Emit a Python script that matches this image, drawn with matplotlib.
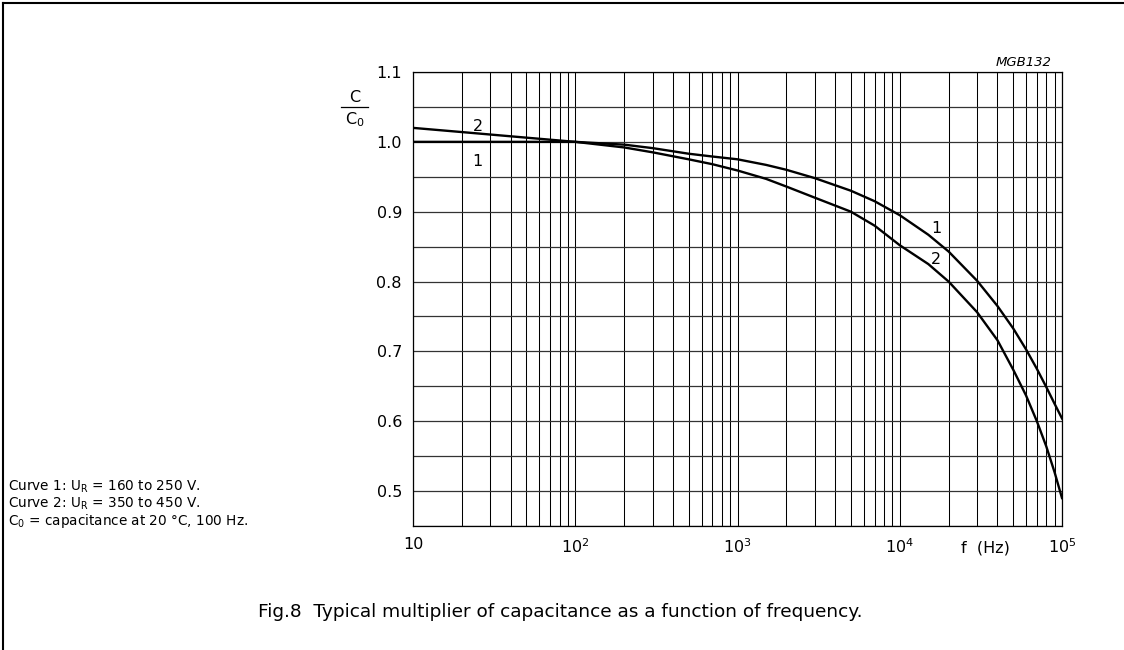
import matplotlib
matplotlib.use("Agg")
import matplotlib.pyplot as plt
from matplotlib.lines import Line2D
from matplotlib.ticker import FixedLocator, NullFormatter

plt.rcParams['font.family'] = ['DejaVu Sans']
plt.rcParams['mathtext.fontset'] = 'dejavusans'

# ---- data ----
freq = [10, 20, 50, 100, 200, 300, 500, 700, 1000, 1500, 2000, 3000, 5000, 7000,
        10000, 15000, 20000, 30000, 40000, 50000, 60000, 70000, 80000, 90000, 100000]
curve1 = [1.0, 1.0, 1.0, 1.0, 0.996, 0.991, 0.983, 0.979, 0.975, 0.967, 0.960, 0.948,
          0.930, 0.915, 0.895, 0.867, 0.843, 0.801, 0.765, 0.733, 0.703, 0.675,
          0.649, 0.625, 0.604]
curve2 = [1.020, 1.014, 1.006, 1.0, 0.992, 0.985, 0.975, 0.968, 0.959, 0.947, 0.936,
          0.920, 0.900, 0.880, 0.852, 0.825, 0.800, 0.756, 0.716, 0.674, 0.637,
          0.600, 0.564, 0.527, 0.490]

y_ticks = [0.5, 0.6, 0.7, 0.8, 0.9, 1.0, 1.1]
y_tick_labels = ['0.5', '0.6', '0.7', '0.8', '0.9', '1.0', '1.1']
x_ticks = [10, 100, 1000, 10000, 100000]
x_tick_labels = ['10', '10$^{2}$', '10$^{3}$', '10$^{4}$', '10$^{5}$']

W, H = 1124, 650
fig = plt.figure(figsize=(W / 100, H / 100), dpi=100)
ax = fig.add_axes([413 / W, 1 - 526 / H, (1062 - 413) / W, (526 - 72) / H])

ax.set_xscale('log')
ax.set_xlim(10, 1e5)
ax.set_ylim(0.45, 1.1)

# grid
minor_x = [m * 10 ** e for e in range(1, 5) for m in range(2, 10)]
for xv in minor_x + x_ticks:
    ax.axvline(xv, color='black', lw=0.75, zorder=1)
yv = 0.45
while yv < 1.1 + 1e-9:
    ax.axhline(yv, color='#333333', lw=0.9, zorder=1)
    yv = round(yv + 0.05, 2)

ax.plot(freq, curve1, color='black', lw=1.7, zorder=3, solid_joinstyle='round')
ax.plot(freq, curve2, color='black', lw=1.7, zorder=3, solid_joinstyle='round')

ax.xaxis.set_major_locator(FixedLocator(x_ticks))
ax.xaxis.set_minor_locator(FixedLocator([]))
ax.xaxis.set_minor_formatter(NullFormatter())
ax.set_xticks(x_ticks)
ax.set_xticklabels(x_tick_labels)
ax.set_yticks(y_ticks)
ax.set_yticklabels(y_tick_labels)
ax.tick_params(axis='both', length=0, labelsize=11.5, pad=8)
ax.tick_params(axis='x', pad=8)
for s in ax.spines.values():
    s.set_linewidth(0.9)

# curve labels
ax.text(25, 1.022, '2', fontsize=11.5, ha='center', va='center')
ax.text(25, 0.9715, '1', fontsize=11.5, ha='center', va='center')
ax.text(1.67e4, 0.876, '1', fontsize=11.5, ha='center', va='center')
ax.text(1.67e4, 0.832, '2', fontsize=11.5, ha='center', va='center')

# f (Hz)
fig.text(985 / W, 1 - 548 / H, 'f  (Hz)', fontsize=11.5, ha='center', va='center')

# y label fraction
fig.text(355 / W, 1 - 98 / H, 'C', fontsize=11.5, ha='center', va='center')
fig.add_artist(Line2D([341 / W, 368 / W], [1 - 107 / H, 1 - 107 / H], color='black', lw=0.9))
fig.text(355 / W, 1 - 120 / H, 'C$_{0}$', fontsize=11.5, ha='center', va='center')

# code
fig.text(1052 / W, 1 - 63 / H, 'MGB132', fontsize=9.5, style='italic', ha='right', va='center')

# notes
notes = ['Curve 1: U$_{\\mathrm{R}}$ = 160 to 250 V.',
         'Curve 2: U$_{\\mathrm{R}}$ = 350 to 450 V.',
         'C$_{0}$ = capacitance at 20 \u00b0C, 100 Hz.']
for i, t in enumerate(notes):
    fig.text(8 / W, 1 - (487 + 17 * i) / H, t, fontsize=9.8, ha='left', va='center')

# caption
fig.text(258 / W, 1 - 612 / H,
         'Fig.8  Typical multiplier of capacitance as a function of frequency.',
         fontsize=13.3, ha='left', va='center')

# page frame (left and top)
fig.add_artist(Line2D([3 / W, 3 / W], [0, 1 - 3 / H], color='black', lw=1.5))
fig.add_artist(Line2D([3 / W, 1], [1 - 3 / H, 1 - 3 / H], color='black', lw=1.5))

fig.savefig('out.png', dpi=100)
